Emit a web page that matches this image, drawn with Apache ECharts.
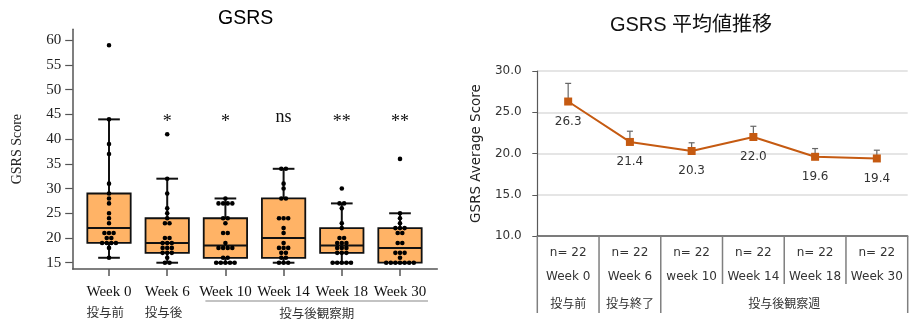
<!DOCTYPE html>
<html><head><meta charset="utf-8">
<script src="https://cdn.jsdelivr.net/npm/echarts@6/dist/echarts.min.js"></script>
<style>html,body{margin:0;padding:0;background:#fff}#c{width:922px;height:328px}</style>
</head><body><div id="c"></div>
<script>
// ---------- Left chart: GSRS box plot ----------
const weekLabels = ['Week 0','Week 6','Week 10','Week 14','Week 18','Week 30'];
const phaseLabelsLeft = ['投与前','投与後','投与後観察期'];
const phaseOfWeek = [0,1,2,2,2,2];
const sigLabels = ['', '*', '*', 'ns', '**', '**'];
const sigLevel = 44.2;

const scoresW0  = [59,44,39,37,31,29,28,27,25,24,23,21,21,21,20,20,19,19,19,19,18,16];
const scoresW6  = [41,32,29,26,25,24,23,23,20,20,19,19,19,18,18,18,17,17,17,16,15,15];
const scoresW10 = [28,27,27,27,27,24,24,23,21,21,19,18,18,18,18,16,16,15,15,15,15,15];
const scoresW14 = [34,34,31,30,28,28,24,24,24,22,21,19,18,18,18,17,17,16,16,15,15,15];
const scoresW18 = [30,27,27,26,23,22,20,20,19,19,19,18,18,18,17,17,17,15,15,15,15,15];
const scoresW30 = [36,25,24,23,22,22,22,21,21,19,19,17,17,17,16,15,15,15,15,15,15,15];

const boxMin    = [16, 15, 15,   15, 15,   15];
const boxQ1     = [19, 17, 16,   16, 17,   15];
const boxMedian = [22, 19, 18.5, 20, 18.5, 18];
const boxQ3     = [29, 24, 24,   28, 22,   22];
const boxMax    = [44, 32, 28,   34, 27,   25];

const yTicksLeft = [15,20,25,30,35,40,45,50,55,60];

// ---------- Right chart: GSRS mean transition ----------
const weekLabelsRight = ['Week 0','Week 6','week 10','Week 14','Week 18','Week 30'];
const phaseLabelsRight = ['投与前','投与終了','投与後観察週'];
const phaseOfWeekRight = [0,1,2,2,2,2];
const nCounts = [22,22,22,22,22,22];
const meanScores = [26.3,21.4,20.3,22.0,19.6,19.4];
const seScores = [2.2,1.3,1.0,1.3,1.0,1.0];

// ---------- build derived tables ----------
const scoreLists = [scoresW0, scoresW6, scoresW10, scoresW14, scoresW18, scoresW30];
const dotData = [];
scoreLists.forEach((list, wi) => {
  const counts = {}; list.forEach(v => counts[v] = (counts[v] || 0) + 1);
  const seen = {};
  list.forEach(v => { const r = seen[v] || 0; seen[v] = r + 1; dotData.push([wi, v, r, counts[v]]); });
});
const boxData = weekLabels.map((_, i) => [i, boxMin[i], boxQ1[i], boxMedian[i], boxQ3[i], boxMax[i]]);
const sigData = sigLabels.map((s, i) => [i, sigLevel]);
const phaseCountLeft = {}; phaseOfWeek.forEach(p => phaseCountLeft[p] = (phaseCountLeft[p] || 0) + 1);
const groupData = [];
phaseLabelsLeft.forEach((lab, p) => {
  const idx = phaseOfWeek.map((q, i) => q === p ? i : -1).filter(i => i >= 0);
  if (idx.length > 1) groupData.push([idx[0], idx[idx.length - 1], p]);
});
const tableData = weekLabelsRight.map((_, i) => [i, 10]);
const errData = meanScores.map((m, i) => [i, m, seScores[i]]);

const SERIF = '"Liberation Serif", "Times New Roman", serif';
const JP = '"Noto Sans CJK JP", sans-serif';
const SANS = '"DejaVu Sans", Verdana, sans-serif';

const chart = echarts.init(document.getElementById('c'));
const option = {
  animation: false,
  graphic: [
    {type: 'text', x: 245.7, y: 18.5, style: {text: 'GSRS', textAlign: 'center', textVerticalAlign: 'middle', font: '19.5px "Liberation Sans", Arial, sans-serif', fill: '#000'}},
    {type: 'text', x: 691, y: 25, style: {text: 'GSRS 平均値推移', textAlign: 'center', textVerticalAlign: 'middle', font: '20px "Liberation Sans", "Noto Sans CJK JP", sans-serif', fill: '#111'}}
  ],
  grid: [
    {left: 72.7, top: 29.3, width: 364.6, height: 239.7, containLabel: false, outerBoundsMode: 'none'},
    {left: 537.3, top: 71, width: 370.4, height: 165, containLabel: false, outerBoundsMode: 'none'}
  ],
  xAxis: [
    {type: 'value', gridIndex: 0, min: -0.624, max: 5.641, splitLine: {show: false},
     axisLine: {onZero: false, lineStyle: {color: '#555', width: 1.5}},
     axisTick: {customValues: [0,1,2,3,4,5], length: 7, lineStyle: {color: '#555', width: 1.5}},
     axisLabel: {customValues: [0,1,2,3,4,5], margin: 12.7,
       formatter: v => {
         const i = Math.round(v);
         let s = '{w|' + weekLabels[i] + '}';
         const p = phaseOfWeek[i];
         if (phaseCountLeft[p] === 1) s += '\n{j|' + phaseLabelsLeft[p] + '}';
         return s;
       },
       rich: {
         w: {fontFamily: SERIF, fontSize: 15, color: '#111', lineHeight: 20},
         j: {fontFamily: JP, fontSize: 12.5, color: '#333', lineHeight: 22, align: 'left'}
       }}},
    {type: 'category', gridIndex: 1, data: weekLabelsRight, boundaryGap: true,
     axisLabel: {show: false}, axisTick: {show: false},
     axisLine: {lineStyle: {color: '#595959', width: 1.5}}}
  ],
  yAxis: [
    {type: 'value', gridIndex: 0, min: 13.73, max: 62.22, splitLine: {show: false},
     name: 'GSRS Score', nameLocation: 'middle', nameGap: 48.7,
     nameTextStyle: {fontFamily: SERIF, fontSize: 14, color: '#222'},
     axisLine: {show: true, onZero: false, lineStyle: {color: '#555', width: 1.5}},
     axisTick: {show: true, customValues: yTicksLeft, length: 7.5, lineStyle: {color: '#555', width: 1.2}},
     axisLabel: {customValues: yTicksLeft, margin: 11.5, fontFamily: SERIF, fontSize: 15, color: '#222'}},
    {type: 'value', gridIndex: 1, min: 10, max: 30, interval: 5,
     name: 'GSRS Average Score', nameLocation: 'middle', nameGap: 54,
     nameTextStyle: {fontFamily: SANS, fontSize: 13.5, color: '#222'},
     axisLine: {show: true, onZero: false, lineStyle: {color: '#595959', width: 1.2}},
     axisTick: {show: true, length: 5, lineStyle: {color: '#595959'}},
     axisLabel: {margin: 15.6, fontFamily: SANS, fontSize: 12, color: '#333', formatter: v => v.toFixed(1)},
     splitLine: {show: true, lineStyle: {color: '#DCDCDC', width: 1.5}}}
  ],
  series: [
    // box plot
    {type: 'custom', xAxisIndex: 0, yAxisIndex: 0, clip: false, z: 2,
     data: boxData, encode: {x: 0, y: [1,2,3,4,5]},
     renderItem: (params, api) => {
       const i = api.value(0);
       const pMin = api.coord([i, api.value(1)]);
       const pQ1 = api.coord([i, api.value(2)]);
       const pMed = api.coord([i, api.value(3)]);
       const pQ3 = api.coord([i, api.value(4)]);
       const pMax = api.coord([i, api.value(5)]);
       const w = api.size([0.745, 0])[0];
       const x = pMed[0];
       const st = {stroke: '#111', lineWidth: 2};
       return {type: 'group', children: [
         {type: 'line', shape: {x1: x, y1: pQ1[1], x2: x, y2: pMin[1]}, style: st},
         {type: 'line', shape: {x1: x, y1: pQ3[1], x2: x, y2: pMax[1]}, style: st},
         {type: 'line', shape: {x1: x - w / 4, y1: pMin[1], x2: x + w / 4, y2: pMin[1]}, style: st},
         {type: 'line', shape: {x1: x - w / 4, y1: pMax[1], x2: x + w / 4, y2: pMax[1]}, style: st},
         {type: 'rect', shape: {x: x - w / 2, y: pQ3[1], width: w, height: pQ1[1] - pQ3[1]}, style: {fill: '#FFB366', stroke: '#111', lineWidth: 1.8}},
         {type: 'line', shape: {x1: x - w / 2, y1: pMed[1], x2: x + w / 2, y2: pMed[1]}, style: st}
       ]};
     }},
    // swarm dots
    {type: 'custom', xAxisIndex: 0, yAxisIndex: 0, clip: false, z: 3,
     data: dotData, encode: {x: 0, y: 1},
     renderItem: (params, api) => {
       const p = api.coord([api.value(0), api.value(1)]);
       const off = (api.value(2) - (api.value(3) - 1) / 2) * 4.6;
       return {type: 'circle', shape: {cx: p[0] + off, cy: p[1], r: 2.3}, style: {fill: '#000'}};
     }},
    // significance labels
    {type: 'custom', xAxisIndex: 0, yAxisIndex: 0, clip: false, z: 3,
     data: sigData, encode: {x: 0, y: 1},
     renderItem: (params, api) => {
       const p = api.coord([api.value(0), api.value(1)]);
       const t = sigLabels[params.dataIndex];
       const dy = t.indexOf('*') >= 0 ? 3.5 : -1;
       return {type: 'text', x: p[0], y: p[1] + dy, style: {text: t, textAlign: 'center', textVerticalAlign: 'middle', font: '18px ' + SERIF, fill: '#111'}};
     }},
    // phase group label with overline
    {type: 'custom', xAxisIndex: 0, yAxisIndex: 0, clip: false, z: 3,
     data: groupData, encode: {x: [0, 1]},
     renderItem: (params, api) => {
       const a = api.coord([api.value(0), 13.73]);
       const b = api.coord([api.value(1), 13.73]);
       const lab = phaseLabelsLeft[api.value(2)];
       return {type: 'group', children: [
         {type: 'line', shape: {x1: a[0] - 20, y1: a[1] + 32, x2: b[0] + 28, y2: a[1] + 32}, style: {stroke: '#888', lineWidth: 1.2}},
         {type: 'text', x: (a[0] + b[0]) / 2 + 4, y: a[1] + 44, style: {text: lab, textAlign: 'center', textVerticalAlign: 'middle', font: '12.5px ' + JP, fill: '#333'}}
       ]};
     }},
    // right: error bars
    {type: 'custom', xAxisIndex: 1, yAxisIndex: 1, clip: false, z: 2,
     data: errData, encode: {x: 0, y: 1},
     renderItem: (params, api) => {
       const i = api.value(0);
       const base = api.coord([i, api.value(1)]);
       const top = api.coord([i, api.value(1) + api.value(2)]);
       const st = {stroke: '#666', lineWidth: 1.2};
       return {type: 'group', children: [
         {type: 'line', shape: {x1: base[0], y1: base[1], x2: top[0], y2: top[1]}, style: st},
         {type: 'line', shape: {x1: top[0] - 3, y1: top[1], x2: top[0] + 3, y2: top[1]}, style: st}
       ]};
     }},
    // right: mean line
    {type: 'line', xAxisIndex: 1, yAxisIndex: 1, data: meanScores, z: 3,
     symbol: 'rect', symbolSize: 8,
     lineStyle: {color: '#C55A11', width: 2}, itemStyle: {color: '#C55A11'},
     label: {show: true, position: 'bottom', distance: 10, fontFamily: SANS, fontSize: 12, color: '#333', formatter: p => p.value.toFixed(1)}},
    // right: table under the axis
    {type: 'custom', xAxisIndex: 1, yAxisIndex: 1, clip: false, z: 3,
     data: tableData, encode: {x: 0, y: 1},
     renderItem: (params, api) => {
       const i = api.value(0);
       const c = api.coord([i, 10]);
       const band = api.size([1, 0])[0];
       const last = weekLabelsRight.length - 1;
       const st = {stroke: '#7f7f7f', lineWidth: 1.5};
       const txt = {textAlign: 'center', textVerticalAlign: 'middle', font: '12px ' + SANS, fill: '#333'};
       const newPhase = i === 0 || phaseOfWeekRight[i] !== phaseOfWeekRight[i - 1];
       const children = [
         {type: 'text', x: c[0], y: c[1] + 17.3, style: Object.assign({text: 'n= ' + nCounts[i]}, txt)},
         {type: 'text', x: c[0], y: c[1] + 41.3, style: Object.assign({text: weekLabelsRight[i]}, txt)},
         {type: 'line', shape: {x1: c[0] - band / 2, y1: c[1], x2: c[0] - band / 2, y2: c[1] + (newPhase ? 77 : 48)}, style: st}
       ];
       if (i === last) children.push({type: 'line', shape: {x1: c[0] + band / 2, y1: c[1], x2: c[0] + band / 2, y2: c[1] + 77}, style: st});
       if (newPhase) {
         let n = 0; phaseOfWeekRight.forEach(p => { if (p === phaseOfWeekRight[i]) n++; });
         children.push({type: 'text', x: c[0] + (n - 1) * band / 2, y: c[1] + 67.3, style: Object.assign({text: phaseLabelsRight[phaseOfWeekRight[i]]}, txt, {font: '12px ' + JP})});
       }
       return {type: 'group', children};
     }}
  ]
};
chart.setOption(option);
</script>
</body></html>
